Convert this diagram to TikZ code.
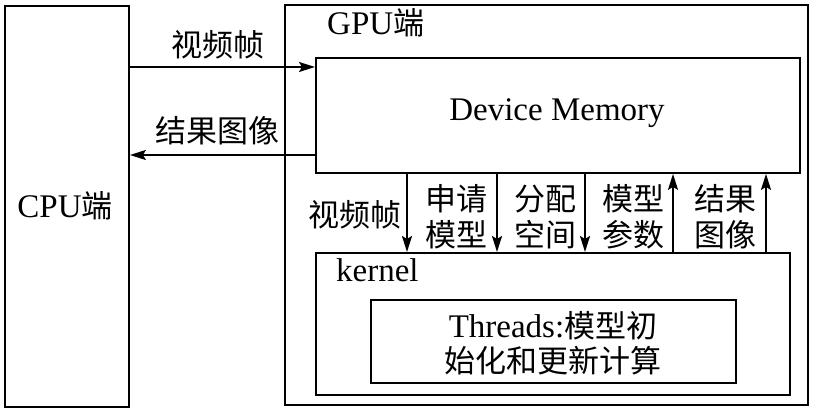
\documentclass[tikz,border=0pt]{standalone}
\usepackage{fontspec}
\setmainfont{Liberation Serif}
\newfontfamily\cjk{Noto Sans CJK SC}
\usetikzlibrary{arrows.meta}
\newcommand\zhs[1]{{\cjk\fontsize{31}{36}\selectfont #1}}
\begin{document}
\begin{tikzpicture}[x=1pt,y=-1pt,
  box/.style={draw, line width=1.9pt, rectangle, anchor=north west, inner sep=0pt},
  arr/.style={line width=1.9pt, -{Stealth[length=16pt,width=10pt,inset=3pt]}},
  lbl/.style={font=\fontsize{31}{36}\selectfont\cjk, inner sep=0pt, align=center},
  lat/.style={font=\fontsize{33}{36}\selectfont, inner sep=0pt, align=center}]
\useasboundingbox[fill=white] (0,0) rectangle (814,411);
% boxes
\node[box, minimum width=124pt, minimum height=401pt] (cpu) at (4,5) {};
\node[box, minimum width=523pt, minimum height=400pt] (gpu) at (284,4) {};
\node[box, minimum width=484pt, minimum height=115pt] (dm) at (315,57) {};
\node[box, minimum width=474pt, minimum height=142pt] (kern) at (315,252) {};
\node[box, minimum width=365pt, minimum height=83pt] (thr) at (370,299) {};
% texts
\node[lat] (cputxt) at (65,206) {CPU\zhs{端}};
\node[lat, anchor=base west] (gputxt) at (327,35) {GPU\zhs{端}};
\node[lat] (dmtxt) at (557,113) {Device Memory};
\node[lat, anchor=base west] (kerntxt) at (336,282) {kernel};
\node[lat] (thrtxt) at (553,343) {Threads:\zhs{模型初}\\[-1pt]\zhs{始化和更新计算}};
% horizontal arrows
\coordinate (ya) at (0,67);
\coordinate (yb) at (0,155);
\draw[arr] (cpu.east |- ya) -- (dm.west |- ya);
\draw[arr] (dm.west |- yb) -- (cpu.east |- yb);
\node[lbl] (l1) at (218,45) {视频帧};
\node[lbl] (l2) at (217,131) {结果图像};
% vertical arrows
\coordinate (x1) at (407,0);
\coordinate (x2) at (497,0);
\coordinate (x3) at (585,0);
\coordinate (x4) at (673,0);
\coordinate (x5) at (766,0);
\draw[arr] (dm.south -| x1) -- (kern.north -| x1);
\draw[arr] (dm.south -| x2) -- (kern.north -| x2);
\draw[arr] (dm.south -| x3) -- (kern.north -| x3);
\draw[arr] (kern.north -| x4) -- (dm.south -| x4);
\draw[arr] (kern.north -| x5) -- (dm.south -| x5);
\node[lbl, anchor=east] (v1) at (402,215) {视频帧};
\node[lbl] (v2) at (456,217) {申请\\模型};
\node[lbl] (v3) at (545,217) {分配\\空间};
\node[lbl] (v4) at (633,217) {模型\\参数};
\node[lbl] (v5) at (725,217) {结果\\图像};
\end{tikzpicture}
\end{document}
